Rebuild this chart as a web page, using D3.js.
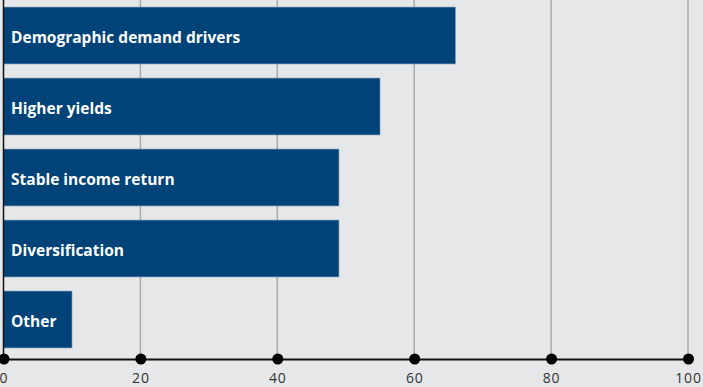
<!DOCTYPE html>
<html><head><meta charset="utf-8">
<script src="https://cdn.jsdelivr.net/npm/d3@7"></script>
<style>
html,body{margin:0;padding:0;background:#e6e7e8;}
svg{display:block;}
</style></head>
<body>
<script>
const categories = ["Demographic demand drivers","Higher yields","Stable income return","Diversification","Other"];
const values = [66, 55, 49, 49, 10];
const tickValues = [0, 20, 40, 60, 80, 100];

const W = 703, H = 387;
const svg = d3.select("body").append("svg").attr("width", W).attr("height", H);
svg.append("rect").attr("width", W).attr("height", H).attr("fill", "#e6e7e8");

const x = d3.scaleLinear().domain([0, 100]).range([3.5, 688]);
const y = d3.scaleBand().domain(categories).range([0, 355]).paddingInner(0.2).paddingOuter(0.1);
const axisY = 359;

// gridlines
svg.append("g").selectAll("line").data(tickValues.slice(1)).join("line")
  .attr("x1", d => x(d)).attr("x2", d => x(d))
  .attr("y1", 0).attr("y2", axisY)
  .attr("stroke", "#a9aaac").attr("stroke-width", 1.5);

// bars
svg.append("g").selectAll("rect").data(values).join("rect")
  .attr("x", x(0)).attr("y", (d, i) => y(categories[i]))
  .attr("width", d => x(d) - x(0)).attr("height", y.bandwidth())
  .attr("fill", "#004379").attr("stroke", "#5f87ad").attr("stroke-width", 0.6);

// labels
svg.append("g").selectAll("text").data(categories).join("text")
  .attr("x", 11).attr("y", d => y(d) + y.bandwidth() / 2)
  .attr("dy", "0.47em")
  .attr("fill", "#ffffff").attr("font-family", "'Open Sans', sans-serif")
  .attr("font-weight", "bold").attr("font-size", "15.5px")
  .text(d => d);

// left axis line
svg.append("line").attr("x1", x(0)).attr("x2", x(0)).attr("y1", 0).attr("y2", axisY)
  .attr("stroke", "#111").attr("stroke-width", 1.5);

// bottom axis
const axis = d3.axisBottom(x).tickValues(tickValues).tickSize(0).tickPadding(14).tickFormat(d3.format("d"));
const ag = svg.append("g").attr("transform", `translate(0,${axisY})`).call(axis);
ag.select(".domain").attr("stroke", "#111").attr("stroke-width", 2);
ag.selectAll("text").attr("font-family", "'Open Sans', sans-serif")
  .attr("font-size", "14px").attr("fill", "#333").attr("letter-spacing", "0.8px");
ag.selectAll(".tick").append("circle").attr("r", 5.5).attr("fill", "#000");
</script>
</body></html>
